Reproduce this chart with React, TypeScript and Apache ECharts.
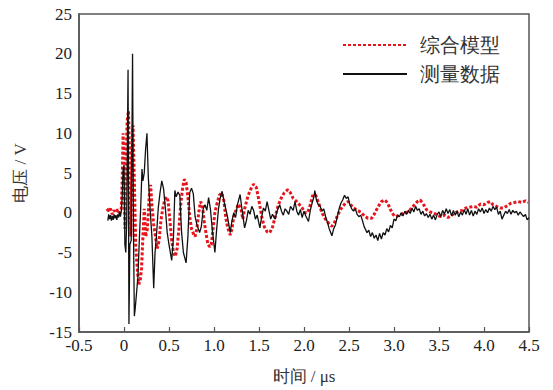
import React, { useEffect, useRef } from "react";
import * as echarts from "echarts";

const seriesNames = ["综合模型", "测量数据"];
const xTicks = ["-0.5", "0", "0.5", "1.0", "1.5", "2.0", "2.5", "3.0", "3.5", "4.0", "4.5"];

const tModel = [
  -0.19, -0.17, -0.15, -0.13, -0.11, -0.09, -0.07, -0.05, -0.03, -0.02, -0.01, 0.0, 0.01, 0.02, 0.035, 0.05,
  0.065, 0.075, 0.085, 0.1, 0.115, 0.13, 0.15, 0.165, 0.18, 0.195, 0.21, 0.225, 0.24, 0.26, 0.28, 0.295, 0.31,
  0.33, 0.35, 0.37, 0.39, 0.41, 0.43, 0.45, 0.47, 0.49, 0.51, 0.53, 0.55, 0.57, 0.59, 0.61, 0.63, 0.65, 0.67,
  0.69, 0.71, 0.73, 0.75, 0.77, 0.79, 0.81, 0.83, 0.85, 0.87, 0.89, 0.91, 0.93, 0.95, 0.97, 0.99, 1.01, 1.03,
  1.06, 1.085, 1.11, 1.13, 1.15, 1.18, 1.2, 1.22, 1.25, 1.27, 1.3, 1.32, 1.34, 1.37, 1.4, 1.44, 1.47, 1.5, 1.53,
  1.56, 1.59, 1.62, 1.65, 1.68, 1.71, 1.74, 1.78, 1.82, 1.85, 1.88, 1.92, 1.95, 1.98, 2.01, 2.04, 2.07, 2.1,
  2.13, 2.16, 2.19, 2.22, 2.25, 2.28, 2.31, 2.34, 2.37, 2.4, 2.43, 2.46, 2.49, 2.52, 2.55, 2.58, 2.61, 2.64,
  2.67, 2.71, 2.75, 2.78, 2.82, 2.86, 2.9, 2.93, 2.96, 2.99, 3.02, 3.06, 3.1, 3.14, 3.18, 3.22, 3.26, 3.29,
  3.32, 3.36, 3.4, 3.44, 3.48, 3.52, 3.56, 3.6, 3.64, 3.68, 3.72, 3.76, 3.8, 3.84, 3.88, 3.92, 3.96, 4.0, 4.04,
  4.07, 4.1, 4.14, 4.18, 4.22, 4.26, 4.3, 4.34, 4.38, 4.42, 4.46, 4.49,
];
const vModel = [
  0.5, 0.2, 0.5, -0.2, 0.3, 0.0, 0.4, 0.0, 0.5, 4.0, 10.0, 7.0, -2.0, 5.0, 11.5, 12.8,
  6.0, -3.0, 4.0, 11.0, 4.0, -4.0, -7.5, -9.0, -8.5, -7.0, -3.0, 0.5, -3.0, -2.0, 2.0, 3.5, 1.0,
  -1.5, -3.0, -4.5, -3.5, -1.0, 0.5, 1.5, 2.0, 1.5, -1.0, -3.5, -5.0, -5.5, -4.5, -2.0, 1.0, 3.0, 4.2,
  3.8, 2.0, -0.5, -2.0, -2.6, -3.0, -2.0, 0.0, 1.4, 1.0, -1.0, -2.5, -3.8, -4.3, -4.0, -2.0, 0.0, 1.0,
  2.2, 2.5, 1.5, -0.5, -1.8, -2.8, -2.0, -0.5, 0.5, 1.1, 0.5, -0.8, 0.5, 1.8, 2.8, 3.6, 3.2, 1.5, -0.5,
  -1.8, -2.4, -2.5, -1.8, -0.5, 0.8, 1.7, 2.5, 2.9, 2.5, 1.8, 1.4, 1.0, 0.6, 0.0, 0.0, 1.0, 2.3,
  2.2, 1.3, 0.3, -0.5, -1.0, -1.4, -1.7, -1.2, -0.4, 0.3, 0.8, 1.2, 1.4, 1.0, 0.6, 0.4, 0.2, 0.0,
  -0.4, -0.7, -0.7, -0.2, 0.7, 1.4, 1.6, 1.2, 0.4, -0.2, -0.5, -0.3, -0.1, 0.0, 0.4, 0.9, 1.4, 1.6,
  1.2, 0.4, 0.1, 0.0, -0.3, -0.5, -0.3, -0.6, -0.3, 0.0, 0.2, 0.3, 0.6, 0.7, 0.8, 0.7, 1.1, 1.0, 1.3,
  1.4, 1.0, 0.8, 0.6, 0.6, 0.9, 1.2, 1.3, 1.4, 1.3, 1.5, 1.3,
];

const tMeas = [
  -0.18, -0.17, -0.16, -0.15, -0.14, -0.13, -0.12, -0.11, -0.1, -0.09, -0.08, -0.07, -0.06, -0.05, -0.04, -0.03,
  -0.02, -0.01, 0.0, 0.01, 0.02, 0.03, 0.045, 0.055, 0.065, 0.08, 0.095, 0.105, 0.115, 0.125, 0.14, 0.155, 0.17,
  0.185, 0.2, 0.21, 0.225, 0.24, 0.255, 0.27, 0.29, 0.31, 0.33, 0.345, 0.36, 0.38, 0.4, 0.42, 0.44, 0.46, 0.48,
  0.5, 0.53, 0.55, 0.565, 0.58, 0.6, 0.62, 0.64, 0.66, 0.69, 0.71, 0.73, 0.75, 0.77, 0.79, 0.81, 0.84, 0.86,
  0.88, 0.9, 0.92, 0.94, 0.96, 0.98, 1.01, 1.03, 1.05, 1.07, 1.09, 1.11, 1.13, 1.15, 1.18, 1.2, 1.22, 1.24,
  1.26, 1.29, 1.31, 1.34, 1.36, 1.38, 1.4, 1.42, 1.44, 1.46, 1.48, 1.51, 1.53, 1.55, 1.57, 1.59, 1.61, 1.63,
  1.65, 1.68, 1.7, 1.73, 1.75, 1.77, 1.79, 1.81, 1.83, 1.85, 1.88, 1.9, 1.92, 1.94, 1.96, 1.98, 2.0, 2.02,
  2.05, 2.07, 2.09, 2.11, 2.12, 2.14, 2.16, 2.18, 2.2, 2.22, 2.24, 2.26, 2.28, 2.31, 2.33, 2.35, 2.37, 2.39,
  2.41, 2.43, 2.45, 2.47, 2.49, 2.51, 2.53, 2.55, 2.57, 2.59, 2.61, 2.63, 2.65, 2.67, 2.7, 2.72, 2.74, 2.76,
  2.78, 2.8, 2.82, 2.84, 2.86, 2.88, 2.9, 2.92, 2.94, 2.96, 2.98, 3.0, 3.02, 3.04, 3.06, 3.08, 3.1, 3.12,
  3.14, 3.16, 3.18, 3.2, 3.22, 3.24, 3.26, 3.28, 3.3, 3.32, 3.34, 3.36, 3.38, 3.4, 3.42, 3.44, 3.46, 3.48,
  3.5, 3.52, 3.54, 3.56, 3.58, 3.6, 3.62, 3.64, 3.66, 3.68, 3.7, 3.72, 3.74, 3.76, 3.78, 3.8, 3.82, 3.84,
  3.86, 3.88, 3.9, 3.92, 3.94, 3.96, 3.98, 4.0, 4.02, 4.04, 4.06, 4.08, 4.1, 4.12, 4.14, 4.16, 4.18, 4.2,
  4.22, 4.24, 4.26, 4.28, 4.3, 4.32, 4.34, 4.36, 4.38, 4.4, 4.42, 4.44, 4.46, 4.48, 4.5,
];
const vMeas = [
  -1.0, -0.2, -0.8, -0.3, -1.0, -0.4, -0.9, -0.2, -0.7, -0.3, -0.9, -0.2, -0.6, 0.1, -0.5, 0.2,
  2.0, 5.5, 6.0, -4.0, -5.0, -1.0, 18.0, -14.0, -4.0, -3.5, 20.0, -2.0, -13.0, -12.0, -10.0, -8.0, -3.5,
  0.5, 5.5, 4.0, 5.0, 8.0, 10.0, 4.5, 0.5, -3.0, -9.5, -5.0, -3.0, 0.5, 2.5, 4.0, 3.0, 0.5, -2.5,
  -4.0, -6.0, -3.0, 2.8, 2.0, 2.6, 2.2, -2.5, -5.0, -6.3, -3.0, 2.5, 3.1, 2.4, -0.5, -1.5, -2.5, -1.7,
  0.5, 1.0, 0.3, 1.9, 0.5, -2.0, -5.0, -2.0, 0.5, 1.9, 2.7, 1.5, 0.5, -0.5, -2.5, -1.0, 0.0, -0.6,
  1.0, 2.3, 0.5, -1.9, -1.0, 0.3, -0.2, 0.8, 0.3, -0.8, -0.3, -1.9, -0.5, 0.6, 0.2, 1.4, 0.3, -0.8,
  -0.2, -0.8, 0.2, 1.0, 0.2, -0.3, 0.5, 0.2, -0.2, 0.8, 0.3, 1.4, 0.2, -0.3, 0.4, -0.6, 0.2, -0.4,
  -1.1, 0.3, 1.2, 2.0, 2.8, 1.5, 1.0, 0.8, 0.2, 0.5, -0.5, -1.2, -2.0, -2.9, -2.0, -1.5, -0.5, 0.5,
  1.2, 1.6, 2.2, 1.8, 2.0, 1.0, 0.5, 0.2, 0.5, -0.2, -0.5, -0.3, -1.0, -1.8, -2.5, -2.2, -3.0, -2.5,
  -3.2, -2.8, -3.5, -2.6, -3.3, -2.5, -2.8, -2.0, -2.4, -1.6, -1.9, -0.8, -1.0, -0.3, -0.5, 0.0, -0.4, 0.2,
  -0.2, 0.3, -0.1, 0.6, 0.1, 0.8, 0.3, 0.5, -0.2, 0.2, -0.4, -0.1, -0.6, -0.2, -0.8, -0.3, -0.9, -0.2,
  0.1, -0.5, 0.3, -0.2, 0.5, -0.1, 0.4, -0.4, 0.3, -0.3, 0.2, -0.5, 0.1, -0.3, 0.4, -0.2, 0.5, -0.3,
  0.3, -0.4, 0.2, -0.2, 0.5, 0.1, 0.6, -0.1, 0.4, 0.0, 0.6, 0.2, 0.8, 0.4, 0.7, -0.2, 0.2, -0.8,
  -0.3, 0.2, -0.1, 0.4, -0.2, 0.3, 0.0, 0.2, -0.3, 0.1, -0.2, -0.5, -0.2, -0.9, -0.6,
];

const FONT = "Liberation Serif, Times New Roman, serif";

export default function App() {
  const ref = useRef<HTMLDivElement>(null);
  useEffect(() => {
    if (!ref.current) return;
    const chart = echarts.init(ref.current, null, { renderer: "svg" });
    const modelData = tModel.map((t, i) => [t, vModel[i]]);
    const measData = tMeas.map((t, i) => [t, vMeas[i]]);
    chart.setOption({
      animation: false,
      backgroundColor: "#fff",
      textStyle: { fontFamily: FONT },
      grid: {
        left: 79,
        right: 24,
        top: 14,
        bottom: 58,
        show: true,
        borderColor: "#555",
        borderWidth: 1.5,
        backgroundColor: "transparent",
      },
      legend: {
        orient: "vertical",
        right: 48,
        top: 30,
        itemWidth: 64,
        itemHeight: 14,
        itemGap: 9,
        itemStyle: { opacity: 0 },
        textStyle: {
          fontFamily: FONT,
          fontSize: 20,
          color: "#333",
          padding: [0, 0, 0, 8],
        },
        data: seriesNames,
      },
      xAxis: {
        type: "value",
        min: -0.5,
        max: 4.5,
        interval: 0.5,
        name: "时间 / μs",
        nameLocation: "middle",
        nameGap: 36,
        nameTextStyle: { fontFamily: FONT, fontSize: 17, color: "#333" },
        axisLine: { show: true, onZero: false, lineStyle: { color: "#555", width: 1.5 } },
        axisTick: { show: true, inside: true, length: 5, lineStyle: { color: "#555", width: 1.2 } },
        splitLine: { show: false },
        axisLabel: {
          fontFamily: FONT,
          fontSize: 17,
          color: "#222",
          margin: 5,
          formatter: (v: number) => {
            const idx = Math.round((v + 0.5) / 0.5);
            return xTicks[idx] ?? String(v);
          },
        },
      },
      yAxis: {
        type: "value",
        min: -15,
        max: 25,
        interval: 5,
        name: "电压 / V",
        nameLocation: "middle",
        nameGap: 50,
        nameTextStyle: { fontFamily: FONT, fontSize: 17, color: "#333" },
        axisLine: { show: true, onZero: false, lineStyle: { color: "#555", width: 1.5 } },
        axisTick: { show: false },
        splitLine: { show: false },
        axisLabel: { fontFamily: FONT, fontSize: 17, color: "#222", margin: 7 },
      },
      series: [
        {
          name: seriesNames[0],
          type: "line",
          data: modelData,
          symbol: "none",
          z: 3,
          lineStyle: { color: "#e8141c", width: 3, type: [3, 2], cap: "butt" },
          itemStyle: { color: "#e8141c" },
        },
        {
          name: seriesNames[1],
          type: "line",
          data: measData,
          symbol: "none",
          z: 4,
          lineStyle: { color: "#111", width: 1.3, type: "solid" },
          itemStyle: { color: "#111" },
        },
      ],
    });
    return () => chart.dispose();
  }, []);
  return (
    <div
      ref={ref}
      style={{ position: "absolute", left: 0, top: 0, width: 553, height: 390 }}
    />
  );
}
